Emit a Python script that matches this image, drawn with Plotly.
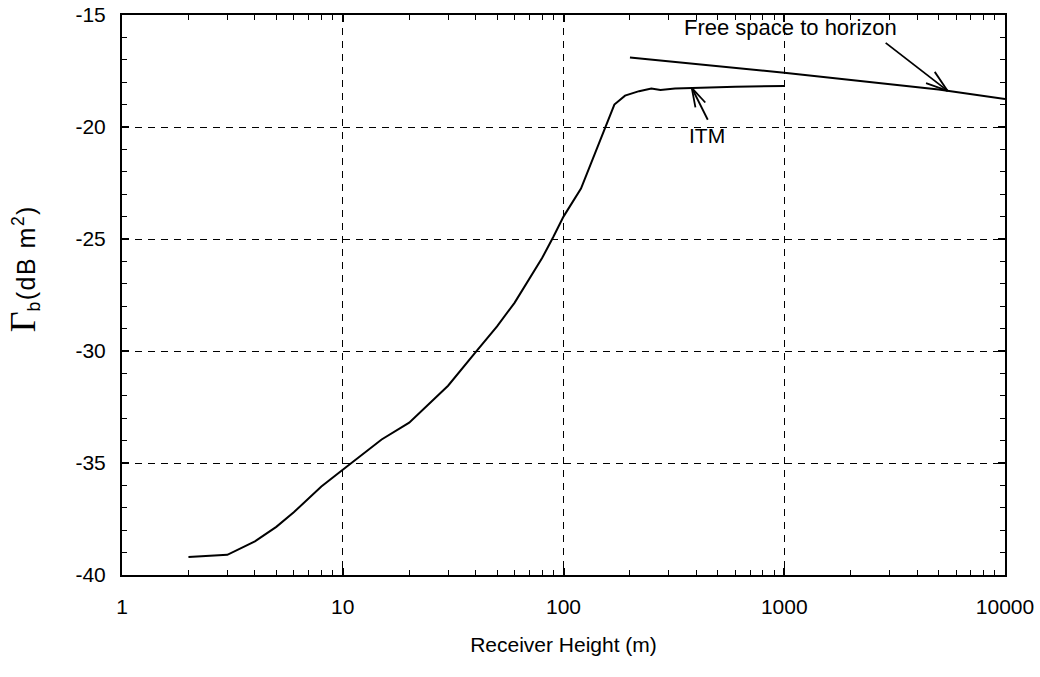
import numpy as np
import plotly.graph_objects as go

# ITM prediction versus receiver height
itm_height = [2, 3, 4, 5, 6, 7, 8, 10, 12, 15, 20, 30, 40, 50, 60, 70, 80, 90,
              100, 120, 137, 155, 170, 190, 220, 250, 275, 320, 400, 600, 1000]
itm_gamma = [-39.2, -39.1, -38.5, -37.85, -37.2, -36.6, -36.05, -35.3, -34.7,
             -33.95, -33.2, -31.55, -30.05, -28.9, -27.85, -26.8, -25.85, -24.9,
             -24.0, -22.75, -21.35, -20.0, -19.0, -18.6, -18.4, -18.28, -18.35,
             -18.28, -18.24, -18.2, -18.17]

# Free-space propagation out to the radio horizon
fs_height = [200, 1000, 5000, 10000]
fs_gamma = [-16.9, -17.58, -18.33, -18.75]

x_tickvals = [1, 10, 100, 1000, 10000]
x_ticktext = ["1", "10", "100", "1000", "10000"]
y_tickvals = [-15, -20, -25, -30, -35, -40]
y_ticktext = ["-15", "-20", "-25", "-30", "-35", "-40"]

X_RANGE_LOG = [0, 4]
Y_RANGE = [-40, -15]

FONT = "Liberation Sans, Arial, sans-serif"
FS = 21

fig = go.Figure()
fig.add_trace(go.Scatter(x=itm_height, y=itm_gamma, mode="lines",
                         line=dict(color="black", width=2), showlegend=False))
fig.add_trace(go.Scatter(x=fs_height, y=fs_gamma, mode="lines",
                         line=dict(color="black", width=2), showlegend=False))


def log_interp(xq, xs, ys):
    return float(np.interp(np.log10(xq), np.log10(xs), ys))


def x_to_paper(x):
    return (np.log10(x) - X_RANGE_LOG[0]) / (X_RANGE_LOG[1] - X_RANGE_LOG[0])


def open_arrow(x, y, tail_dx, tail_dy, barb=22, angle=17):
    """Shaft and two barbs (open arrowhead) with the tip at data point (x, y).
    tail_dx / tail_dy are screen-pixel offsets of the tail (dy downward)."""
    segs = [(tail_dx, tail_dy)]
    v = np.array([tail_dx, tail_dy], dtype=float)
    v /= np.linalg.norm(v)
    for s in (-1, 1):
        a = np.deg2rad(angle * s)
        r = np.array([v[0] * np.cos(a) - v[1] * np.sin(a),
                      v[0] * np.sin(a) + v[1] * np.cos(a)]) * barb
        segs.append((float(r[0]), float(r[1])))
    return [dict(type="line", xref="paper", yref="y",
                 xsizemode="pixel", ysizemode="pixel",
                 xanchor=float(x_to_paper(x)), yanchor=y,
                 x0=0, y0=0, x1=dx, y1=-dy,
                 line=dict(color="black", width=1.8))
            for dx, dy in segs]


shapes = []
itm_tip = 381
shapes += open_arrow(itm_tip, log_interp(itm_tip, itm_height, itm_gamma), 16, 32,
                     barb=20, angle=16)
fs_tip = 5500
shapes += open_arrow(fs_tip, log_interp(fs_tip, fs_height, fs_gamma), -62, -48,
                     barb=23, angle=18)

annotations = [
    dict(x=np.log10(446), y=-20.36, text="ITM", showarrow=False,
         xanchor="center", yanchor="middle",
         font=dict(family=FONT, size=FS, color="black")),
    dict(x=np.log10(1064), y=-15.54, text="Free space to horizon", showarrow=False,
         xanchor="center", yanchor="middle",
         font=dict(family=FONT, size=22, color="black")),
    dict(xref="paper", yref="paper", x=-0.112, y=0.546,
         xanchor="center", yanchor="middle",
         text='<span style="font-family:Liberation Serif;font-size:36px">Γ</span>'
              '<span style="letter-spacing:1.5px"><sub>b</sub>(dB m<sup>2</sup>)</span>',
         textangle=-90, showarrow=False,
         font=dict(family=FONT, size=25, color="black")),
]

axis_common = dict(
    showline=True, linecolor="black", linewidth=2, mirror="allticks",
    ticks="inside", ticklen=7, tickwidth=1.5, tickcolor="black",
    showgrid=True, gridcolor="black", gridwidth=1, griddash="7px,6px",
    zeroline=False, automargin=False,
    tickfont=dict(family=FONT, size=FS, color="black"),
)

fig.update_layout(
    width=1040, height=677,
    margin=dict(l=122, r=35, t=15, b=102),
    paper_bgcolor="white", plot_bgcolor="white",
    font=dict(family=FONT, size=FS, color="black"),
    annotations=annotations,
    shapes=shapes,
    xaxis=dict(
        type="log", range=X_RANGE_LOG, tickvals=x_tickvals, ticktext=x_ticktext,
        minor=dict(ticks="inside", ticklen=5, tickwidth=1.2, tickcolor="black",
                   dtick="D1", showgrid=False),
        ticklabelstandoff=12,
        title=dict(text="Receiver Height (m)", standoff=20,
                   font=dict(family=FONT, size=FS, color="black")),
        **axis_common,
    ),
    yaxis=dict(
        range=Y_RANGE, tickvals=y_tickvals, ticktext=y_ticktext,
        minor=dict(ticks="inside", ticklen=5, tickwidth=1.2, tickcolor="black",
                   dtick=1, showgrid=False),
        ticklabelstandoff=10,
        **axis_common,
    ),
)

fig.write_html("out.html")
